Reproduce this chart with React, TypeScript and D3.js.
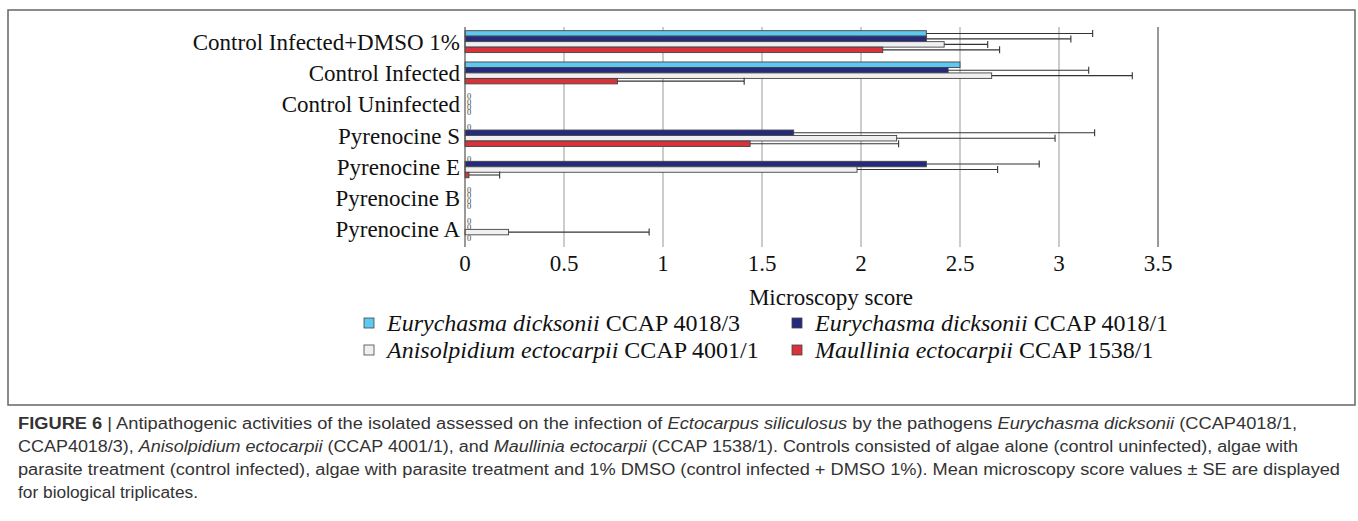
import React from "react";
import * as d3 from "d3";

const categories = [
  "Control Infected+DMSO 1%",
  "Control Infected",
  "Control Uninfected",
  "Pyrenocine S",
  "Pyrenocine E",
  "Pyrenocine B",
  "Pyrenocine A",
];

const seriesNames = ["ed3", "ed1", "ae", "me"];

// mean microscopy scores, category order top to bottom
const ed3Values = [2.33, 2.5, 0, 0, 0, 0, 0];
const ed3Errors = [0.84, 0, 0, 0, 0, 0, 0];
const ed1Values = [2.33, 2.44, 0, 1.66, 2.33, 0, 0];
const ed1Errors = [0.73, 0.71, 0, 1.52, 0.57, 0, 0];
const aeValues = [2.42, 2.66, 0, 2.18, 1.98, 0, 0.22];
const aeErrors = [0.22, 0.71, 0, 0.8, 0.71, 0, 0.71];
const meValues = [2.11, 0.77, 0, 1.44, 0.02, 0, 0];
const meErrors = [0.59, 0.64, 0, 0.75, 0.155, 0, 0];

const xTicks = [0, 0.5, 1, 1.5, 2, 2.5, 3, 3.5];

const colors: Record<string, string> = {
  ed3: "#5ec8f0",
  ed1: "#262a7c",
  ae: "#f0f0f0",
  me: "#d8333a",
};

const seriesData: Record<string, { v: number[]; e: number[] }> = {
  ed3: { v: ed3Values, e: ed3Errors },
  ed1: { v: ed1Values, e: ed1Errors },
  ae: { v: aeValues, e: aeErrors },
  me: { v: meValues, e: meErrors },
};

const legendItems = [
  { key: "ed3", species: "Eurychasma dicksonii", strain: " CCAP 4018/3", col: 0, row: 0 },
  { key: "ed1", species: "Eurychasma dicksonii", strain: " CCAP 4018/1", col: 1, row: 0 },
  { key: "ae", species: "Anisolpidium ectocarpii", strain: " CCAP 4001/1", col: 0, row: 1 },
  { key: "me", species: "Maullinia ectocarpii", strain: " CCAP 1538/1", col: 1, row: 1 },
];

const serif = "'Liberation Serif', 'Times New Roman', serif";
const sans = "'Liberation Sans', Arial, sans-serif";

const App: React.FC = () => {
  const width = 1358;
  const height = 521;

  const x = d3.scaleLinear().domain([0, 3.5]).range([465, 1158]);
  const y = d3
    .scaleBand<string>()
    .domain(categories)
    .range([26, 245])
    .paddingInner(0.3)
    .paddingOuter(0.15);
  const sub = d3.scaleBand<string>().domain(seriesNames).range([0, y.bandwidth()]);

  const plotTop = 27;
  const plotBottom = 247;

  return (
    <svg
      width={width}
      height={height}
      style={{ position: "absolute", left: 0, top: 0, background: "#fff" }}
    >
      {/* figure frame */}
      <rect x={8} y={10} width={1347} height={395} fill="none" stroke="#666" strokeWidth={1.5} />

      {/* gridlines */}
      {xTicks.slice(1).map((t) => (
        <line
          key={t}
          x1={x(t)}
          x2={x(t)}
          y1={plotTop}
          y2={plotBottom}
          stroke={t === 3.5 ? "#333" : "#999"}
          strokeWidth={1}
        />
      ))}

      {/* bars */}
      {categories.map((c, i) => (
        <g key={c} transform={`translate(0,${y(c)})`}>
          {seriesNames.map((s) => {
            const v = seriesData[s].v[i];
            const e = seriesData[s].e[i];
            const by = sub(s)!;
            const bh = sub.bandwidth();
            const cy = by + bh / 2;
            if (v === 0) {
              return (
                <text
                  key={s}
                  x={x(0) + 2}
                  y={cy}
                  dy="0.36em"
                  fontFamily={serif}
                  fontSize={8.5}
                  fill="#444"
                >
                  0
                </text>
              );
            }
            return (
              <g key={s}>
                <rect
                  x={x(0)}
                  y={by}
                  width={x(v) - x(0)}
                  height={bh}
                  fill={colors[s]}
                  stroke="#444"
                  strokeWidth={0.9}
                />
                {e > 0 && (
                  <g stroke="#333" strokeWidth={1.1}>
                    <line x1={x(v)} x2={x(v + e)} y1={cy} y2={cy} />
                    <line x1={x(v + e)} x2={x(v + e)} y1={cy - 3.5} y2={cy + 3.5} />
                  </g>
                )}
              </g>
            );
          })}
          <text
            x={460}
            y={y.bandwidth() / 2}
            dy="0.35em"
            textAnchor="end"
            fontFamily={serif}
            fontSize={23}
            fill="#111"
          >
            {c}
          </text>
        </g>
      ))}

      {/* y axis line */}
      <line x1={x(0)} x2={x(0)} y1={plotTop} y2={plotBottom} stroke="#555" strokeWidth={1.2} />

      {/* x tick labels */}
      {xTicks.map((t) => (
        <text
          key={t}
          x={x(t)}
          y={271}
          textAnchor="middle"
          fontFamily={serif}
          fontSize={23}
          fill="#111"
        >
          {t}
        </text>
      ))}
      <text x={831} y={305} textAnchor="middle" fontFamily={serif} fontSize={23} fill="#111">
        Microscopy score
      </text>

      {/* legend */}
      {legendItems.map((it) => {
        const lx = it.col === 0 ? 364 : 792;
        const ly = 323 + it.row * 27;
        return (
          <g key={it.key}>
            <rect
              x={lx}
              y={ly - 5}
              width={10}
              height={10}
              fill={colors[it.key]}
              stroke="#444"
              strokeWidth={0.8}
            />
            <text x={lx + 23} y={ly} dy="0.35em" fontFamily={serif} fontSize={24} fill="#111">
              <tspan fontStyle="italic">{it.species}</tspan>
              <tspan>{it.strain}</tspan>
            </text>
          </g>
        );
      })}

      {/* caption */}
      <g fontFamily={sans} fontSize={16} fill="#333">
        <text x={18} y={429} textLength={1279} lengthAdjust="spacingAndGlyphs">
          <tspan fontWeight="bold">FIGURE 6</tspan>
          <tspan> | Antipathogenic activities of the isolated assessed on the infection of </tspan>
          <tspan fontStyle="italic">Ectocarpus siliculosus</tspan>
          <tspan> by the pathogens </tspan>
          <tspan fontStyle="italic">Eurychasma dicksonii</tspan>
          <tspan> (CCAP4018/1,</tspan>
        </text>
        <text x={18} y={452} textLength={1280} lengthAdjust="spacingAndGlyphs">
          <tspan>CCAP4018/3), </tspan>
          <tspan fontStyle="italic">Anisolpidium ectocarpii</tspan>
          <tspan> (CCAP 4001/1), and </tspan>
          <tspan fontStyle="italic">Maullinia ectocarpii</tspan>
          <tspan> (CCAP 1538/1). Controls consisted of algae alone (control uninfected), algae with</tspan>
        </text>
        <text x={18} y={475} textLength={1322} lengthAdjust="spacingAndGlyphs">
          parasite treatment (control infected), algae with parasite treatment and 1% DMSO (control
          infected + DMSO 1%). Mean microscopy score values ± SE are displayed
        </text>
        <text x={18} y={498} textLength={180} lengthAdjust="spacingAndGlyphs">
          for biological triplicates.
        </text>
      </g>
    </svg>
  );
};

export default App;
